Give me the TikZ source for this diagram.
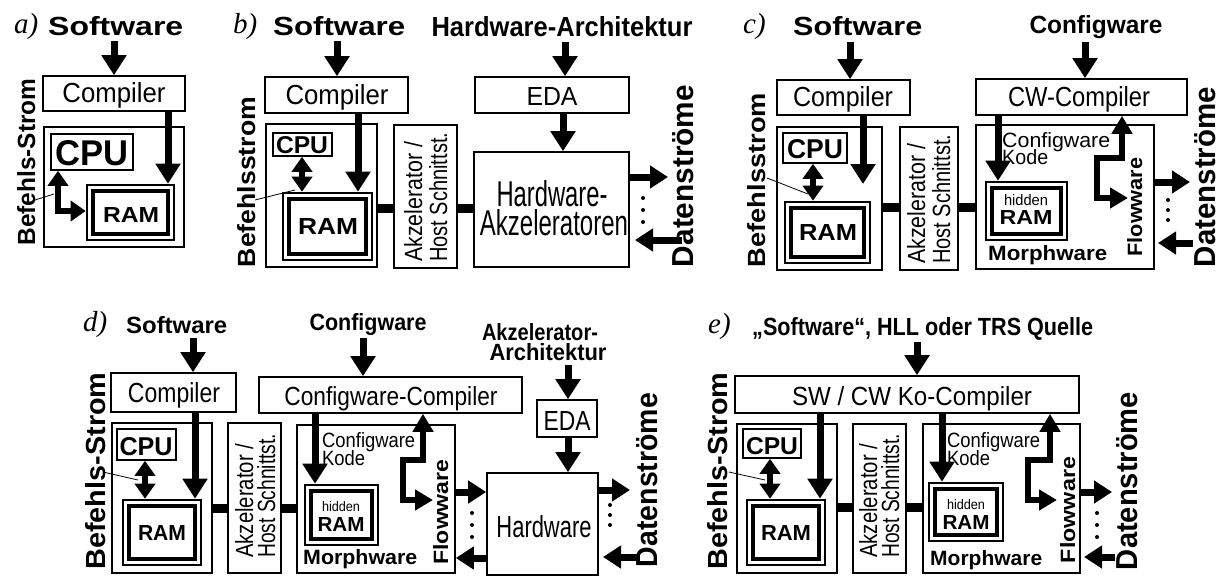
\documentclass[tikz,border=0pt]{standalone}
\usepackage{fontspec}
\usepackage{graphicx}
\newfontfamily\lsans{Liberation Sans}
\newfontfamily\lserif{Liberation Serif}
\usetikzlibrary{arrows.meta,fit}
\newcommand\RS[3]{\resizebox{#1pt}{#2pt}{#3}}
\tikzset{
 box/.style={draw,line width=1.6pt,inner sep=0pt},
 tx/.style={inner sep=0pt,font=\lsans},
 txb/.style={inner sep=0pt,font=\lsans\bfseries},
 lab/.style={inner sep=0pt,font=\lserif\itshape\fontsize{29}{29}\selectfont},
 rot/.style={rotate=90,anchor=base},
 barr/.style={line width=7pt,-{Triangle[length=20pt,width=24pt]}},
 harr/.style={line width=7pt,-{Triangle[length=18pt,width=22pt]}},
 darr/.style={line width=6pt,{Triangle[length=15pt,width=20pt]}-{Triangle[length=15pt,width=20pt]}},
 farr/.style={line width=6pt,line join=miter,{Triangle[length=18pt,width=20pt]}-{Triangle[length=18pt,width=20pt]}},
 conn/.style={line width=9pt},
 pointer/.style={line width=0.8pt},
 dotc/.style={circle,fill,inner sep=0pt,minimum size=4pt},
}
\newcommand\dframe[5]{%
  \node[box,line width=2.6pt,fit={(#2,#3)(#4,#5)}] (#1) {};
  \node[box,line width=4.6pt,fit={(#2+6,#3+6)(#4-6,#5-6)}] (#1i) {};
}
\begin{document}
\begin{tikzpicture}[x=1pt,y=-1pt]
\fill[white] (0,0) rectangle (1223,576);
\useasboundingbox (0,0) rectangle (1223,576);

% ================= panel a =================
\node[lab,anchor=base west] (la) at (14,33) {a)};
\node[txb,anchor=base west] (swA) at (48,35) {\RS{135}{19}{Software}};
\node[box,fit={(43,76)(185,111)}] (cmpA) {};
\node[tx,anchor=base] (cmpAt) at (114,102) {\RS{103}{20}{Compiler}};
\node[box,fit={(44,127)(184,247)}] (outA) {};
\node[box,fit={(51,134)(133,170)}] (cpuA) {};
\node[txb,anchor=base] (cpuAt) at (92,165) {\RS{73}{25}{CPU}};
\dframe{ramA}{87}{185}{174}{240}
\node[txb,anchor=base] (ramAt) at (131,222) {\RS{56}{15}{RAM}};
\node[txb,rot] (befA) at (35,162) {\RS{167}{18}{Befehls-Strom}};
\coordinate (aA1) at (114,41);
\draw[barr] (aA1) -- (aA1 |- cmpA.north);
\coordinate (aA2) at (168,0);
\draw[barr] (aA2 |- cmpA.south) -- (aA2 |- ramA.north);
\coordinate (aA3) at (58,0);
\coordinate (aA4) at (0,211);
\draw[darr,line join=miter] (aA3 |- cpuA.south) -- (aA3 |- aA4) -- (ramA.west |- aA4);
\coordinate (pA1) at (35,200);
\coordinate (pA2) at (54,194);
\draw[pointer] (pA1) -- (pA2);

% ================= panel b =================
\node[lab,anchor=base west] (lb) at (233,33) {b)};
\node[txb,anchor=base west] (swB) at (273,35) {\RS{132}{19}{Software}};
\node[box,fit={(265,77)(408,113)}] (cmpB) {};
\node[tx,anchor=base] (cmpBt) at (337,104) {\RS{103}{20}{Compiler}};
\node[box,fit={(266,124)(377,267)}] (outB) {};
\node[box,fit={(273,133)(332,156)}] (cpuB) {};
\node[txb,anchor=base] (cpuBt) at (302,153) {\RS{52}{17}{CPU}};
\dframe{ramB}{283}{193}{372}{260}
\node[txb,anchor=base] (ramBt) at (328,234) {\RS{60}{16}{RAM}};
\node[txb,rot] (befB) at (255,182) {\RS{170}{18}{Befehlsstrom}};
\coordinate (aB1) at (337,41);
\draw[barr] (aB1) -- (aB1 |- cmpB.north);
\coordinate (aB2) at (358,0);
\draw[barr] (aB2 |- cmpB.south) -- (aB2 |- ramB.north);
\coordinate (aB3) at (302,0);
\draw[darr] (aB3 |- cpuB.south) -- (aB3 |- ramB.north);
\coordinate (pB1) at (255,200);
\coordinate (pB2) at (295,190);
\draw[pointer] (pB1) -- (pB2);
\node[box,fit={(394,125)(457,268)}] (akzB) {};
\node[tx,rot,anchor=base west] (akzB1) at (422,262) {\RS{120}{18}{Akzelerator /}};
\node[tx,rot,anchor=base west] (akzB2) at (447,262) {\RS{129}{18}{Host Schnittst.}};
\coordinate (cB) at (0,208);
\draw[conn] (outB.east |- cB) -- (akzB.west |- cB);
\node[txb,anchor=base] (haB) at (562,36) {\RS{261}{20}{Hardware-Architektur}};
\node[box,fit={(475,77)(629,113)}] (edaB) {};
\node[tx,anchor=base] (edaBt) at (552,105) {\RS{51}{18}{EDA}};
\node[box,fit={(474,152)(629,267)}] (hwB) {};
\node[tx,anchor=base] (hwB1) at (552,206) {\RS{111}{26}{Hardware-}};
\node[tx,anchor=base] (hwB2) at (554,235) {\RS{148}{26}{Akzeleratoren}};
\draw[conn] (akzB.east |- cB) -- (hwB.west |- cB);
\coordinate (aB4) at (565,42);
\draw[barr] (aB4) -- (aB4 |- edaB.north);
\coordinate (aB5) at (563,0);
\draw[barr] (aB5 |- edaB.south) -- (aB5 |- hwB.north);
\coordinate (oB) at (668,177);
\draw[harr] (hwB.east |- oB) -- (oB);
\coordinate (iB1) at (682,240);
\coordinate (iB2) at (635,240);
\draw[harr] (iB1) -- (iB2);
\node[dotc] (dB1) at (643,198) {};
\node[dotc] (dB2) at (643,210) {};
\node[dotc] (dB3) at (643,222) {};
\node[txb,rot] (dsB) at (693,176) {\RS{182}{21}{Datenströme}};

% ================= panel c =================
\node[lab,anchor=base west] (lc) at (743,33) {c)};
\node[txb,anchor=base west] (swC) at (793,35) {\RS{129}{19}{Software}};
\node[box,fit={(777,80)(910,115)}] (cmpC) {};
\node[tx,anchor=base] (cmpCt) at (843,106) {\RS{100}{20}{Compiler}};
\node[box,fit={(777,127)(882,270)}] (outC) {};
\node[box,fit={(783,133)(847,163)}] (cpuC) {};
\node[txb,anchor=base] (cpuCt) at (815,158) {\RS{56}{19}{CPU}};
\dframe{ramC}{785}{202}{870}{263}
\node[txb,anchor=base] (ramCt) at (828,240) {\RS{58}{16}{RAM}};
\node[txb,rot] (befC) at (765,180) {\RS{174}{18}{Befehlsstrom}};
\coordinate (aC1) at (850,42);
\draw[barr] (aC1) -- (aC1 |- cmpC.north);
\coordinate (aC2) at (863,184);
\draw[barr] (aC2 |- cmpC.south) -- (aC2);
\coordinate (aC3) at (813,0);
\draw[darr] (aC3 |- cpuC.south) -- (aC3 |- ramC.north);
\coordinate (pC1) at (767,178);
\coordinate (pC2) at (808,194);
\draw[pointer] (pC1) -- (pC2);
\node[box,fit={(900,127)(958,270)}] (akzC) {};
\node[tx,rot,anchor=base west] (akzC1) at (925,264) {\RS{120}{18}{Akzelerator /}};
\node[tx,rot,anchor=base west] (akzC2) at (950,264) {\RS{129}{18}{Host Schnittst.}};
\node[box,fit={(976,125)(1154,269)}] (morC) {};
\coordinate (cC) at (0,207);
\draw[conn] (outC.east |- cC) -- (akzC.west |- cC);
\draw[conn] (akzC.east |- cC) -- (morC.west |- cC);
\node[txb,anchor=base] (cfgC) at (1096,33) {\RS{133}{18}{Configware}};
\node[box,fit={(976,79)(1187,115)}] (cwC) {};
\node[tx,anchor=base] (cwCt) at (1079,106) {\RS{142}{20}{CW-Compiler}};
\coordinate (aC4) at (1085,42);
\draw[barr] (aC4) -- (aC4 |- cwC.north);
\node[tx,anchor=base west] (ckC1) at (1002,147) {\RS{108}{15}{Configware}};
\node[tx,anchor=base west] (ckC2) at (1002,164) {\RS{46}{15}{Kode}};
\dframe{hramC}{986}{182}{1067}{240}
\node[tx,anchor=base] (hidC) at (1026,205) {\RS{44}{11}{hidden}};
\node[txb,anchor=base] (hramCt) at (1026,224) {\RS{53}{14}{RAM}};
\coordinate (aC5) at (998,0);
\draw[barr] (aC5 |- cwC.south) -- (aC5 |- hramC.north);
\node[txb,anchor=base west] (mwC) at (988,260) {\RS{119}{15}{Morphware}};
\coordinate (fC1) at (1122,158);
\coordinate (fC2) at (1097,198);
\coordinate (fC3) at (1128,198);
\draw[farr] (fC1 |- cwC.south) -- (fC1) -| (fC2) -- (fC3);
\node[txb,rot] (flC) at (1142,207) {\RS{99}{15}{Flowware}};
\coordinate (oC) at (1190,182);
\draw[harr] (morC.east |- oC) -- (oC);
\coordinate (iC1) at (1193,243);
\coordinate (iC2) at (1158,243);
\draw[harr] (iC1) -- (iC2);
\node[dotc] (dC1) at (1168,200) {};
\node[dotc] (dC2) at (1168,210) {};
\node[dotc] (dC3) at (1168,220) {};
\node[txb,rot] (dsC) at (1215,177) {\RS{180}{21}{Datenströme}};

% ================= panel d =================
\node[lab,anchor=base west] (ld) at (83,331) {d)};
\node[txb,anchor=base west] (swD) at (126,333) {\RS{101}{17}{Software}};
\node[box,fit={(111,373)(236,412)}] (cmpD) {};
\node[tx,anchor=base] (cmpDt) at (174,402) {\RS{92}{20}{Compiler}};
\node[box,fit={(112,423)(212,573)}] (outD) {};
\node[box,fit={(117,429)(176,460)}] (cpuD) {};
\node[txb,anchor=base] (cpuDt) at (146,455) {\RS{53}{18}{CPU}};
\dframe{ramD}{123}{500}{201}{565}
\node[txb,anchor=base] (ramDt) at (162,540) {\RS{48}{15}{RAM}};
\node[txb,rot] (befD) at (105,471) {\RS{197}{20}{Befehls-Strom}};
\coordinate (aD1) at (193,338);
\draw[barr] (aD1) -- (aD1 |- cmpD.north);
\coordinate (aD2) at (195,0);
\draw[barr] (aD2 |- cmpD.south) -- (aD2 |- ramD.north);
\coordinate (aD3) at (145,0);
\draw[darr] (aD3 |- cpuD.south) -- (aD3 |- ramD.north);
\coordinate (pD1) at (103,472);
\coordinate (pD2) at (138,480);
\draw[pointer] (pD1) -- (pD2);
\node[box,fit={(228,423)(281,573)}] (akzD) {};
\node[tx,rot,anchor=base west] (akzD1) at (253,558) {\RS{114}{18}{Akzelerator /}};
\node[tx,rot,anchor=base west] (akzD2) at (275,558) {\RS{124}{18}{Host Schnittst.}};
\node[box,fit={(297,425)(455,573)}] (morD) {};
\coordinate (cD) at (0,508);
\draw[conn] (outD.east |- cD) -- (akzD.west |- cD);
\draw[conn] (akzD.east |- cD) -- (morD.west |- cD);
\node[txb,anchor=base] (cfgD) at (368,330) {\RS{117}{17}{Configware}};
\node[box,fit={(259,377)(522,413)}] (ccD) {};
\node[tx,anchor=base] (ccDt) at (391,405) {\RS{213}{19}{Configware-Compiler}};
\coordinate (aD4) at (363,338);
\draw[barr] (aD4) -- (aD4 |- ccD.north);
\node[tx,anchor=base west] (ckD1) at (322,447) {\RS{93}{15}{Configware}};
\node[tx,anchor=base west] (ckD2) at (322,465) {\RS{43}{15}{Kode}};
\dframe{hramD}{305}{485}{378}{545}
\node[tx,anchor=base] (hidD) at (341,511) {\RS{38}{10}{hidden}};
\node[txb,anchor=base] (hramDt) at (341,531) {\RS{47}{14}{RAM}};
\coordinate (aD5) at (315,0);
\draw[barr] (aD5 |- ccD.south) -- (aD5 |- hramD.north);
\node[txb,anchor=base west] (mwD) at (303,564) {\RS{114}{15}{Morphware}};
\coordinate (fD1) at (423,460);
\coordinate (fD2) at (403,500);
\coordinate (fD3) at (433,500);
\draw[farr] (fD1 |- ccD.south) -- (fD1) -| (fD2) -- (fD3);
\node[txb,rot] (flD) at (448,512) {\RS{105}{15}{Flowware}};
\node[box,fit={(487,473)(598,575)}] (hwD) {};
\node[tx,anchor=base] (hwDt) at (544,537) {\RS{95}{22}{Hardware}};
\coordinate (oD) at (0,492);
\draw[harr] (morD.east |- oD) -- (hwD.west |- oD);
\coordinate (iD) at (0,558);
\draw[harr] (hwD.west |- iD) -- (morD.east |- iD);
\node[dotc] (dD1) at (472,513) {};
\node[dotc] (dD2) at (472,525) {};
\node[dotc] (dD3) at (472,537) {};
\node[txb,anchor=base] (aaD1) at (540,340) {\RS{116}{17}{Akzelerator-}};
\node[txb,anchor=base] (aaD2) at (548,360) {\RS{117}{17}{Architektur}};
\node[box,fit={(537,400)(597,437)}] (edaD) {};
\node[tx,anchor=base] (edaDt) at (567,430) {\RS{47}{19}{EDA}};
\coordinate (aD6) at (568,365);
\draw[barr] (aD6) -- (aD6 |- edaD.north);
\coordinate (aD7) at (568,0);
\draw[barr] (aD7 |- edaD.south) -- (aD7 |- hwD.north);
\coordinate (oD2) at (630,490);
\draw[harr] (hwD.east |- oD2) -- (oD2);
\coordinate (iD1) at (640,557);
\coordinate (iD2) at (603,557);
\draw[harr] (iD1) -- (iD2);
\node[dotc] (dD4) at (610,505) {};
\node[dotc] (dD5) at (610,515) {};
\node[dotc] (dD6) at (610,525) {};
\node[txb,rot] (dsD) at (657,480) {\RS{174}{21}{Datenströme}};

% ================= panel e =================
\node[lab,anchor=base west] (le) at (708,333) {e)};
\node[txb,anchor=base west] (titE) at (752,335) {\RS{341}{18}{„Software“, HLL oder TRS Quelle}};
\node[box,fit={(735,376)(1079,413)}] (swcwE) {};
\node[tx,anchor=base] (swcwEt) at (912,405) {\RS{240}{19}{SW / CW Ko-Compiler}};
\coordinate (aE1) at (917,342);
\draw[barr] (aE1) -- (aE1 |- swcwE.north);
\node[txb,rot] (befE) at (727,471) {\RS{197}{20}{Befehls-Strom}};
\node[box,fit={(737,424)(837,573)}] (outE) {};
\node[box,fit={(743,429)(801,458)}] (cpuE) {};
\node[txb,anchor=base] (cpuEt) at (772,454) {\RS{52}{17}{CPU}};
\dframe{ramE}{747}{500}{825}{565}
\node[txb,anchor=base] (ramEt) at (786,540) {\RS{50}{15}{RAM}};
\coordinate (aE2) at (820,0);
\draw[barr] (aE2 |- swcwE.south) -- (aE2 |- ramE.north);
\coordinate (aE3) at (770,0);
\draw[darr] (aE3 |- cpuE.south) -- (aE3 |- ramE.north);
\coordinate (pE1) at (729,472);
\coordinate (pE2) at (765,480);
\draw[pointer] (pE1) -- (pE2);
\node[box,fit={(853,424)(906,573)}] (akzE) {};
\node[tx,rot,anchor=base west] (akzE1) at (877,558) {\RS{114}{18}{Akzelerator /}};
\node[tx,rot,anchor=base west] (akzE2) at (899,558) {\RS{124}{18}{Host Schnittst.}};
\node[box,fit={(923,424)(1080,573)}] (morE) {};
\coordinate (cE) at (0,507);
\draw[conn] (outE.east |- cE) -- (akzE.west |- cE);
\draw[conn] (akzE.east |- cE) -- (morE.west |- cE);
\node[tx,anchor=base west] (ckE1) at (947,447) {\RS{93}{15}{Configware}};
\node[tx,anchor=base west] (ckE2) at (947,465) {\RS{43}{15}{Kode}};
\dframe{hramE}{929}{483}{1003}{541}
\node[tx,anchor=base] (hidE) at (966,509) {\RS{38}{10}{hidden}};
\node[txb,anchor=base] (hramEt) at (966,529) {\RS{47}{14}{RAM}};
\coordinate (aE4) at (942,0);
\draw[barr] (aE4 |- swcwE.south) -- (aE4 |- hramE.north);
\node[txb,anchor=base west] (mwE) at (930,565) {\RS{112}{15}{Morphware}};
\coordinate (fE1) at (1050,460);
\coordinate (fE2) at (1028,500);
\coordinate (fE3) at (1057,500);
\draw[farr] (fE1 |- swcwE.south) -- (fE1) -| (fE2) -- (fE3);
\node[txb,rot] (flE) at (1075,510) {\RS{106}{15}{Flowware}};
\coordinate (oE) at (1112,492);
\draw[harr] (morE.east |- oE) -- (oE);
\coordinate (iE1) at (1115,557);
\coordinate (iE2) at (1084,557);
\draw[harr] (iE1) -- (iE2);
\node[dotc] (dE1) at (1097,513) {};
\node[dotc] (dE2) at (1097,525) {};
\node[dotc] (dE3) at (1097,537) {};
\node[txb,rot] (dsE) at (1137,481) {\RS{178}{21}{Datenströme}};
\end{tikzpicture}
\end{document}
